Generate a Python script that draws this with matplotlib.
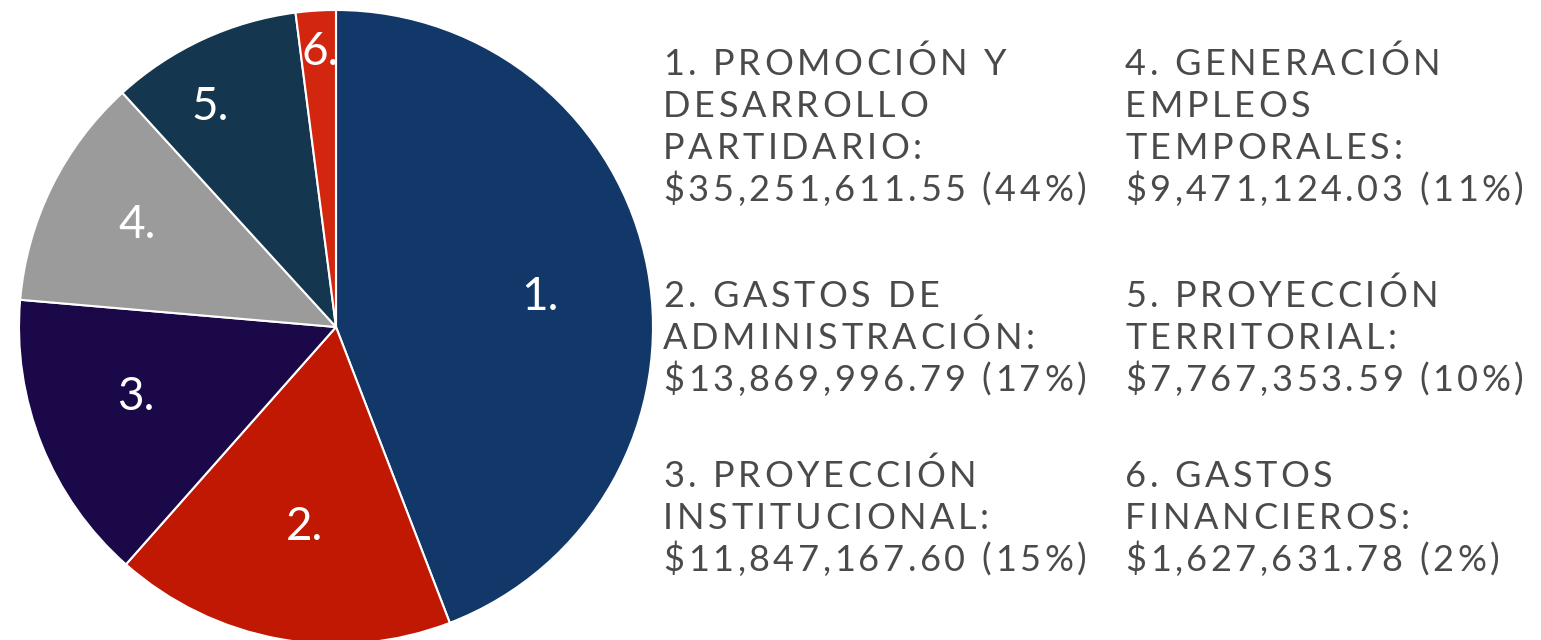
import matplotlib
matplotlib.use('Agg')
import matplotlib.pyplot as plt
import numpy as np
from matplotlib.font_manager import FontProperties, findfont, get_font

# data
# -------------------------------------------------------------
numbers = ['1.', '2.', '3.', '4.', '5.', '6.']
names = [['1. PROMOCIÓN Y', 'DESARROLLO', 'PARTIDARIO:'],
         ['2. GASTOS DE', 'ADMINISTRACIÓN:'],
         ['3. PROYECCIÓN', 'INSTITUCIONAL:'],
         ['4. GENERACIÓN', 'EMPLEOS', 'TEMPORALES:'],
         ['5. PROYECCIÓN', 'TERRITORIAL:'],
         ['6. GASTOS', 'FINANCIEROS:']]
amounts = [35251611.55, 13869996.79, 11847167.60, 9471124.03, 7767353.59, 1627631.78]
amount_labels = ['$35,251,611.55', '$13,869,996.79', '$11,847,167.60',
                 '$9,471,124.03', '$7,767,353.59', '$1,627,631.78']
pct_labels = ['44%', '17%', '15%', '11%', '10%', '2%']
colors = ['#12386a', '#c11804', '#1b0848', '#9b9b9b', '#14374f', '#d3260f']
label_radius = [0.65, 0.64, 0.67, 0.705, 0.80, 0.87]
label_dangle = [-2.1, 1.4, -2.6, -0.9, 5.0, -0.4]   # nudge from mid-angle, deg
# -------------------------------------------------------------

W, H, DPI = 1541, 640, 100
fig = plt.figure(figsize=(W / DPI, H / DPI), dpi=DPI)
fig.patch.set_facecolor('white')

prop = FontProperties(family='Lato')

# pie: centre ~ (336, 327) px, radius ~ 317 px
cx, cy, r = 336, 327, 317
ax = fig.add_axes([(cx - r) / W, (H - cy - r) / H, 2 * r / W, 2 * r / H])
wedges, _ = ax.pie(amounts, colors=colors, startangle=90, counterclock=False,
                   radius=1, wedgeprops=dict(edgecolor='white', linewidth=1.5))
ax.set_xlim(-1, 1)
ax.set_ylim(-1, 1)
ax.set_aspect('equal')
ax.axis('off')

for w, lab, rr, da in zip(wedges, numbers, label_radius, label_dangle):
    ang = np.deg2rad((w.theta1 + w.theta2) / 2 + da)
    ax.text(rr * np.cos(ang), rr * np.sin(ang), lab, color='white',
            fontproperties=prop, fontsize=33, ha='center', va='center')


def spaced_text(x, y, s, size=26, tracking=3.6, color='#4a4a4a'):
    # draw text char by char to mimic letter spacing (x, y in px, y from top)
    font = get_font(findfont(prop))
    font.set_size(size, DPI)
    for ch in s:
        fig.text(x / W, 1 - y / H, ch, fontproperties=prop, fontsize=size,
                 color=color, ha='left', va='baseline')
        x += font.load_char(ord(ch)).linearHoriAdvance / 65536 + tracking


col_x = [663, 1125]
row_y = [75, 307, 487]
line_h = 42
for i in range(6):
    x = col_x[i // 3]
    y = row_y[i % 3]
    lines = names[i] + [f'{amount_labels[i]} ({pct_labels[i]})']
    for j, line in enumerate(lines):
        spaced_text(x, y + j * line_h, line)

plt.savefig('out.png', dpi=DPI, facecolor='white')
